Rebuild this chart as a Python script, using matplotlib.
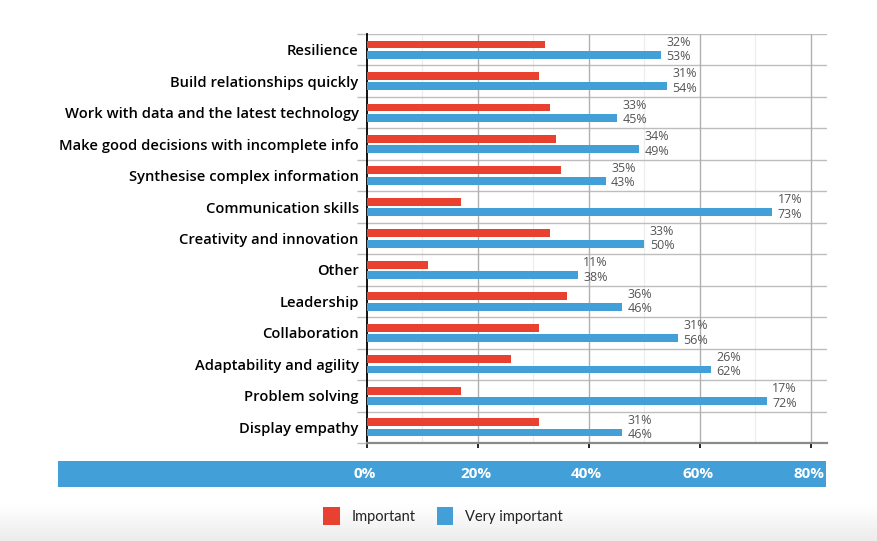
import numpy as np
import matplotlib
matplotlib.use('Agg')
import matplotlib.pyplot as plt
import matplotlib.patches as patches

# Data
categories = ["Resilience", "Build relationships quickly",
              "Work with data and the latest technology",
              "Make good decisions with incomplete info",
              "Synthesise complex information", "Communication skills",
              "Creativity and innovation", "Other", "Leadership",
              "Collaboration", "Adaptability and agility",
              "Problem solving", "Display empathy"]
important = [32, 31, 33, 34, 35, 17, 33, 11, 36, 31, 26, 17, 31]
very_important = [53, 54, 45, 49, 43, 73, 50, 38, 46, 56, 62, 72, 46]
xticks = [0, 20, 40, 60, 80]
xtick_labels = ["0%", "20%", "40%", "60%", "80%"]
series_names = ["Important", "Very important"]

red = '#E8412F'
blue = '#429FD8'

W, H = 877, 541
fig = plt.figure(figsize=(W / 100, H / 100), dpi=100)
fig.patch.set_facecolor('white')

# bottom grey gradient
bg = fig.add_axes([0, 0, 1, 36 / H], zorder=-5)
grad = np.linspace(0, 1, 50).reshape(-1, 1)
bg.imshow(grad, aspect='auto', cmap=matplotlib.colors.LinearSegmentedColormap.from_list(
    'g', ['#ececec', '#ffffff']), origin='lower', extent=[0, 1, 0, 1])
bg.axis('off')

# bottom band behind the tick labels
fig.patches.append(patches.Rectangle((58 / W, (H - 487) / H), (826 - 58) / W, 26 / H,
                                     transform=fig.transFigure, facecolor=blue,
                                     edgecolor='none', zorder=-1))

ax = fig.add_axes([367 / W, (H - 443) / H, 460 / W, 409 / H])
ax.patch.set_alpha(0)
y = np.arange(len(categories))
off = 0.165
h = 0.25
ax.barh(y - off, important, height=h, color=red, zorder=3)
ax.barh(y + off, very_important, height=h, color=blue, zorder=3)

ax.set_xlim(0, 82.9)
ax.set_ylim(len(categories) - 0.5, -0.5)

# grid
for b in np.arange(-0.5, len(categories), 1.0):
    ax.axhline(b, color='#bdbdbd', lw=1, zorder=1)
for v in [10, 30, 50, 70]:
    ax.axvline(v, color='#ececec', lw=0.8, zorder=0)
for v in [20, 40, 60, 80]:
    ax.axvline(v, color='#b0b0b0', lw=1, zorder=1)

# value labels
for i, (a, b) in enumerate(zip(important, very_important)):
    xl = b + 1.0
    ax.text(xl, i - 0.23, "%d%%" % a, va='center', ha='left', fontsize=9,
            color='#555555', family='Open Sans', zorder=4)
    ax.text(xl, i + 0.23, "%d%%" % b, va='center', ha='left', fontsize=9,
            color='#555555', family='Open Sans', zorder=4)

# axes styling
for s in ['top', 'right']:
    ax.spines[s].set_visible(False)
ax.spines['left'].set_color('black')
ax.spines['left'].set_linewidth(1.3)
ax.spines['bottom'].set_color('#8a8a8a')
ax.spines['bottom'].set_linewidth(1.6)

ax.set_yticks(y)
ax.set_yticklabels(categories, fontsize=10.6, family='Open Sans',
                   fontweight='semibold', color='black')
ax.set_yticks(np.arange(-0.5, len(categories), 1.0), minor=True)
ax.tick_params(axis='y', which='major', length=0, pad=6)
ax.tick_params(axis='y', which='minor', length=7, color='#bdbdbd', width=1)

ax.set_xticks(xticks)
ax.set_xticklabels([])
ax.tick_params(axis='x', which='major', length=3.5, color='black', width=1.2)

for xv, lab in zip(xticks, xtick_labels):
    ax.text(xv - 0.4, -31 / 409, lab, transform=ax.get_xaxis_transform(),
            ha='center', va='center', fontsize=11, fontweight='bold',
            color='white', family='Open Sans', clip_on=False, zorder=5)

# legend
handles = [patches.Patch(facecolor=red, edgecolor='none'),
           patches.Patch(facecolor=blue, edgecolor='none')]
leg = fig.legend(handles, series_names, loc='center',
                 bbox_to_anchor=(443 / W, 1 - 516 / H), ncol=2, frameon=False,
                 handlelength=1.1, handleheight=1.5, handletextpad=0.8,
                 columnspacing=1.5, prop={'family': 'Lato', 'size': 10.5})
for t in leg.get_texts():
    t.set_color('#222222')

fig.savefig('out.png', dpi=100)
